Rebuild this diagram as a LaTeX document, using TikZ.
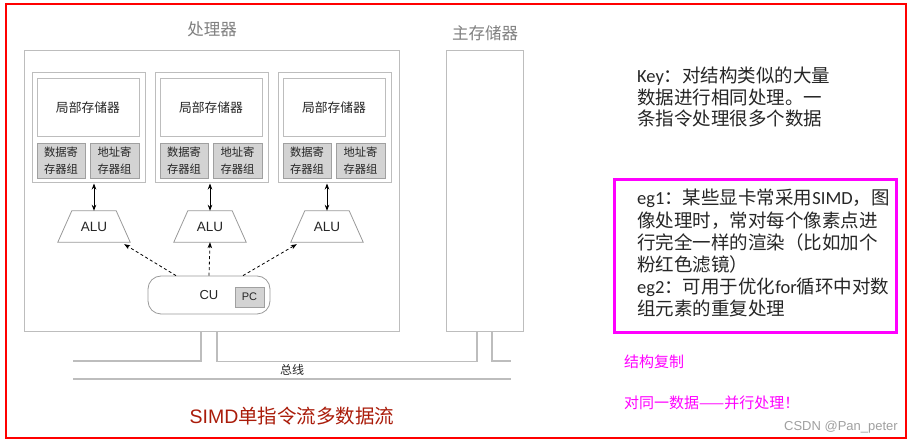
\documentclass[tikz,border=0pt]{standalone}
\usepackage{fontspec}
\setmainfont{Noto Sans CJK SC}
\newfontfamily\carl{Carlito}
\newfontfamily\arialf{Liberation Sans}
\usetikzlibrary{shapes.geometric,arrows.meta,calc}
\definecolor{boxgray}{HTML}{BDBDBD}
\definecolor{reggray}{HTML}{D3D3D3}
\definecolor{regline}{HTML}{A0A0A0}
\definecolor{titlegray}{HTML}{808080}
\definecolor{shapegray}{HTML}{9A9A9A}
\definecolor{simdred}{RGB}{170,28,10}
\definecolor{mag}{RGB}{255,0,255}
\definecolor{txt}{HTML}{262626}
\definecolor{wmgray}{HTML}{A0A0A0}
\tikzset{
  box/.style={draw=boxgray, line width=1pt, inner sep=0pt, rectangle},
  pebox/.style={box, minimum width=113pt, minimum height=110pt},
  localbox/.style={box, minimum width=102pt, minimum height=58pt, font=\fontsize{12.8}{14}\selectfont, text=txt},
  regbox/.style={draw=regline, fill=reggray, line width=0.8pt, minimum height=35pt, align=center, inner sep=0pt, font=\fontsize{11.3}{16.5}\selectfont, text=txt},
  alubox/.style={rectangle, minimum width=72pt, minimum height=31pt, inner sep=0pt, font=\arialf\fontsize{13.5}{15}\selectfont, text=txt},
  aluline/.style={draw=shapegray, line width=0.8pt},
  cubox/.style={draw=shapegray, line width=0.8pt, rounded corners=13pt, minimum width=122pt, minimum height=38pt, inner sep=0pt, font=\arialf\fontsize{13}{15}\selectfont, text=txt},
  pcbox/.style={draw=regline, fill=reggray, line width=0.8pt, minimum width=29pt, minimum height=20pt, inner sep=0pt, font=\arialf\fontsize{11}{12}\selectfont, text=txt},
  bus/.style={draw=boxgray, line width=1.2pt},
  dbl/.style={line width=0.8pt, {Stealth[length=6pt,width=4.5pt]}-{Stealth[length=6pt,width=4.5pt]}},
  ctrl/.style={line width=0.8pt, dashed, dash pattern=on 3pt off 2.5pt, -{Stealth[length=6pt,width=4.5pt]}},
  title/.style={font=\fontsize{16.5}{18}\selectfont, text=titlegray},
  note/.style={anchor=base west, inner sep=0pt, font=\fontsize{18.5}{22}\selectfont, text=txt},
  pinknote/.style={anchor=base west, inner sep=0pt, font=\fontsize{15}{18}\selectfont, text=mag},
}
\begin{document}
\begin{tikzpicture}[x=1pt,y=-1pt]
\useasboundingbox (0,0) rectangle (914,443);
\fill[white] (0,0) rectangle (914,443);
% outer red frame
\draw[red, line width=1.5pt] (6,4) rectangle (906,438);

% processor
\node[title] (ptitle) at (212,29) {处理器};
\node[box, minimum width=375pt, minimum height=281pt] (proc) at (211.5,191.5) {};

\foreach \i/\xo/\ax in {1/32/94, 2/155/210, 3/278/327}{
  \node[pebox] (pe\i) at (\xo+56.5,128) {};
  \node[localbox] (loc\i) at (\xo+56,108) {局部存储器};
  \node[regbox, minimum width=48pt] (dreg\i) at (\xo+29,160.5) {数据寄\\存器组};
  \node[regbox, minimum width=49pt] (areg\i) at (\xo+82.5,160.5) {地址寄\\存器组};
  \node[alubox] (alu\i) at (\ax,226.5) {ALU};
  \draw[aluline] (alu\i.south west) -- ([xshift=14pt]alu\i.north west) -- ([xshift=-14pt]alu\i.north east) -- (alu\i.south east) -- cycle;
  \draw[dbl] (alu\i.north) -- (alu\i.north |- pe\i.south);
}

% control unit
\node[cubox] (cu) at (209,295) {CU};
\node[pcbox] (pc) at (249.5,297) {PC};
\draw[ctrl] ([xshift=-33pt]cu.north) -- ([xshift=-6pt,yshift=-2pt]alu1.south east);
\draw[ctrl] (cu.north) -- (alu2.south);
\draw[ctrl] ([xshift=34pt]cu.north) -- ([xshift=6pt,yshift=-2pt]alu3.south west);

% main memory
\node[title] (mtitle) at (485,33) {主存储器};
\node[box, minimum width=77pt, minimum height=281pt] (mem) at (484.5,191.5) {};

% bus
\coordinate (bL) at (73,361);
\coordinate (bR) at (511,361);
\coordinate (cL) at (73,379);
\coordinate (cR) at (511,379);
\draw[bus] ([xshift=-10.5pt]proc.south) |- (bL);
\draw[bus] ([xshift=5.5pt]proc.south) |- ($(mem.south)+(-7.5,29)$) -- ([xshift=-7.5pt]mem.south);
\draw[bus] ([xshift=7.5pt]mem.south) |- (bR);
\draw[bus] (cL) -- (cR);
\node[font=\fontsize{12}{14}\selectfont, text=txt] (bustext) at (292,370) {总线};

% title
\node[font=\fontsize{19.5}{22}\selectfont, text=simdred] (simd) at (292,416) {{\arialf SIMD}单指令流多数据流};

% key text
\node[note] (key1) at (637,83) {{\carl Key}：对结构类似的大量};
\node[note] (key2) at (637,104.5) {数据进行相同处理。一};
\node[note] (key3) at (637,126) {条指令处理很多个数据};

% example box
\draw[mag, line width=3pt] (614,180) rectangle (896,333);
\node[note] (eg1) at (637,205) {{\carl eg1}：某些显卡常采用{\carl SIMD}，图};
\node[note] (eg2) at (637,228) {像处理时，常对每个像素点进};
\node[note] (eg3) at (637,250) {行完全一样的渲染（比如加个};
\node[note] (eg4) at (637,271.5) {粉红色滤镜）};
\node[note] (eg5) at (637,294) {{\carl eg2}：可用于优化{\carl for}循环中对数};
\node[note] (eg6) at (637,316) {组元素的重复处理};

\node[pinknote] (pk1) at (624,368) {结构复制};
\node[pinknote] (pk2) at (624,409) {对同一数据——并行处理！};

\node[anchor=base east, inner sep=0pt, font=\arialf\fontsize{13}{15}\selectfont, text=wmgray] (wm) at (898,431) {CSDN @Pan\_peter};
\end{tikzpicture}
\end{document}
